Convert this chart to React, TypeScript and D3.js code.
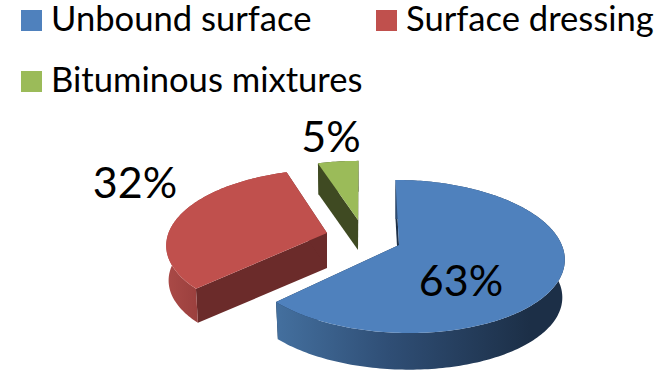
import * as d3 from "d3";

// Share of road length by surface type, in percent.
const surfaceTypes = ["Unbound surface", "Surface dressing", "Bituminous mixtures"];
const shares = [63, 32, 5];
const shareLabels = ["63%", "32%", "5%"];

const WIDTH = 664;
const HEIGHT = 371;
const FONT = "Lato, 'Open Sans', sans-serif";

// Exploded slice layout: apex of each top face, extrusion height and disc radii.
const apexes: [number, number][] = [[399, 245], [327, 233], [358, 220]];
const depths = [38, 35, 30];
const radiiX = [160.5, 158.5, 150];
const radiiY = [74.8, 73, 68];
const centerShifts = [2.3, 0, 0.5];
const shears = [6.7, -3, 0];
const labelAnchors: [number, number][] = [[461, 296], [135, 198], [331, 152]];
const legendAnchors: [number, number][] = [[21, 10], [376, 10], [21, 71]];

const topColors = ["#4f81bd", "#c0504d", "#9bbb59"];
const wallColors = ["#1c2f47", "#6b2b2a", "#3f4a22"];

// Tilted-disc projection with mild perspective: near edge drawn larger than far edge.
const PERSPECTIVE = 0.15;
const BASE_SCALE = 0.985;

function project(i: number, angle: number, scale = 1, dy = 0): [number, number] {
  const u = Math.sin(angle);
  const v = -Math.cos(angle);
  const w = 1 - PERSPECTIVE * v;
  const [ax, ay] = apexes[i];
  return [
    ax + scale * (centerShifts[i] + (radiiX[i] * u) / w + (shears[i] * v) / w),
    ay + dy + (scale * radiiY[i] * v) / w,
  ];
}

const pieLayout = d3.pie<number>().sort(null).value((d) => d);
const arcs = pieLayout(shares);
const pathOf = d3.line<[number, number]>();

function arcPoints(i: number, a0: number, a1: number, scale = 1, dy = 0) {
  const steps = Math.max(2, Math.ceil((a1 - a0) / 0.02));
  return d3.range(steps + 1).map((k) => project(i, a0 + ((a1 - a0) * k) / steps, scale, dy));
}

export default function App() {
  return (
    <svg
      width={WIDTH}
      height={HEIGHT}
      viewBox={`0 0 ${WIDTH} ${HEIGHT}`}
      style={{ position: "absolute", left: 0, top: 0, background: "#fff" }}
      fontFamily={FONT}
    >
      <defs>
        <linearGradient id="rim-0" gradientUnits="userSpaceOnUse" x1="275" x2="530" y1="0" y2="0">
          <stop offset="0" stopColor="#44709f" />
          <stop offset="0.45" stopColor="#2f4e75" />
          <stop offset="1" stopColor="#1c2f47" />
        </linearGradient>
        <linearGradient id="rim-1" gradientUnits="userSpaceOnUse" x1="167" x2="197" y1="0" y2="0">
          <stop offset="0" stopColor="#aa4a47" />
          <stop offset="1" stopColor="#9b403e" />
        </linearGradient>
        <linearGradient id="rim-2" gradientUnits="userSpaceOnUse" x1="318" x2="358" y1="0" y2="0">
          <stop offset="0" stopColor="#3f4a22" />
          <stop offset="1" stopColor="#3f4a22" />
        </linearGradient>
      </defs>

      {arcs.map((slice, i) => {
        const apex = apexes[i];
        const depth = depths[i];
        const top = arcPoints(i, slice.startAngle, slice.endAngle);
        const bottom = arcPoints(i, slice.startAngle, slice.endAngle, BASE_SCALE, depth);
        const lowerApex: [number, number] = [apex[0], apex[1] + depth];
        const startWall = [apex, top[0], bottom[0], lowerApex] as [number, number][];
        const endWall = [apex, top[top.length - 1], bottom[bottom.length - 1], lowerApex] as [number, number][];
        const rim = [...top, ...bottom.slice().reverse()];
        const face = [apex, ...top];
        return (
          <g key={surfaceTypes[i]}>
            <path d={pathOf(startWall) + "Z"} fill={wallColors[i]} />
            <path d={pathOf(endWall) + "Z"} fill={wallColors[i]} />
            <path d={pathOf(rim) + "Z"} fill={`url(#rim-${i})`} />
            <path d={pathOf(face) + "Z"} fill={topColors[i]} />
          </g>
        );
      })}

      {shareLabels.map((label, i) => (
        <text key={label} x={labelAnchors[i][0]} y={labelAnchors[i][1]} fontSize={43} textAnchor="middle" fill="#000">
          {label}
        </text>
      ))}

      {surfaceTypes.map((name, i) => (
        <g key={name} transform={`translate(${legendAnchors[i][0]},${legendAnchors[i][1]})`}>
          <rect width={21} height={21} fill={topColors[i]} />
          <text x={30} y={21} fontSize={34.6} fill="#000">
            {name}
          </text>
        </g>
      ))}
    </svg>
  );
}
